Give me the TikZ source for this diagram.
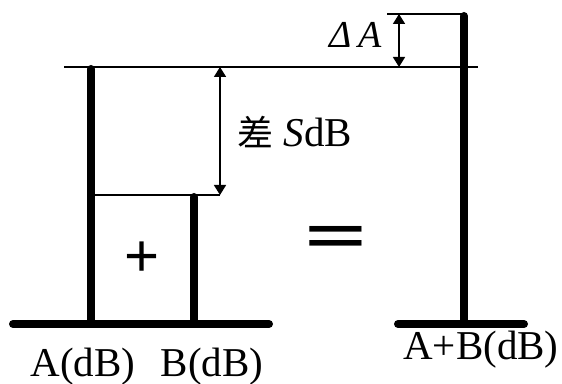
\documentclass[tikz,border=0pt]{standalone}
\usepackage{fontspec}
\setmainfont{Liberation Serif}
\newfontfamily\cjkfont{Noto Sans CJK SC}
\newfontfamily\opfont{Liberation Sans}
\usepackage{tikz}
\usetikzlibrary{arrows.meta}

\tikzset{
  bar/.style={line width=4pt, line cap=round},
  thinline/.style={line width=0.8pt},
  dimarrow/.style={line width=0.8pt, {Triangle[width=6pt,length=5pt]}-{Triangle[width=6pt,length=5pt]}},
  label/.style={font=\fontsize{20.5}{20.5}\selectfont, inner sep=0pt}
}

\begin{document}
\begin{tikzpicture}[x=0.5pt,y=-0.5pt]
\useasboundingbox (0,0) rectangle (562,384);
% key points
\coordinate (baseL1) at (13,324);
\coordinate (baseL2) at (269,324);
\coordinate (baseR1) at (398,324);
\coordinate (baseR2) at (524,324);
\coordinate (Abot) at (91,324);
\coordinate (Atop) at (91,69);
\coordinate (Bbot) at (194,324);
\coordinate (Btop) at (194,197);
\coordinate (Stop) at (464,16);
\coordinate (Sfoot) at (464,324);
\coordinate (levA1) at (64,67);
\coordinate (levA2) at (478,67);
\coordinate (levB1) at (91,195);
\coordinate (levB2) at (220,195);
\coordinate (levS1) at (387,14);
\coordinate (levS2) at (464,14);
\coordinate (dS1) at (220,67);
\coordinate (dS2) at (220,195);
\coordinate (dA1) at (399,14);
\coordinate (dA2) at (399,67);

% base lines and bars
\draw[bar] (baseL1) -- (baseL2);
\draw[bar] (baseR1) -- (baseR2);
\draw[bar] (Abot) -- (Atop);
\draw[bar] (Bbot) -- (Btop);
\draw[bar] (Sfoot) -- (Stop);

% level lines
\draw[thinline] (levA1) -- (levA2);
\draw[thinline] (levB1) -- (levB2);
\draw[thinline] (levS1) -- (levS2);

% differences
\draw[dimarrow] (dS1) -- (dS2);
\draw[dimarrow] (dA1) -- (dA2);

% texts
\node[label, anchor=base west] (diff) at (237,147) {{\cjkfont\fontsize{18}{18}\selectfont 差} \textit{S}dB};
\node[label, anchor=base east, font=\fontsize{19}{19}\selectfont] (delta) at (382,48) {\textit{Δ}\,\textit{A}};
\node[label, anchor=base] (labA) at (83,377) {A(dB)};
\node[label, anchor=base] (labB) at (212,377) {B(dB)};
\node[label, anchor=base] (labS) at (481,360) {A+B(dB)};
\node[inner sep=0pt, font=\opfont\fontsize{30}{30}\selectfont] (plus) at (142,259) {+};
\node[inner sep=0pt, font=\opfont\bfseries\fontsize{20}{20}\selectfont] (equal) at (335.5,240) {\scalebox{2.6}[1.3]{=}};
\end{tikzpicture}
\end{document}
